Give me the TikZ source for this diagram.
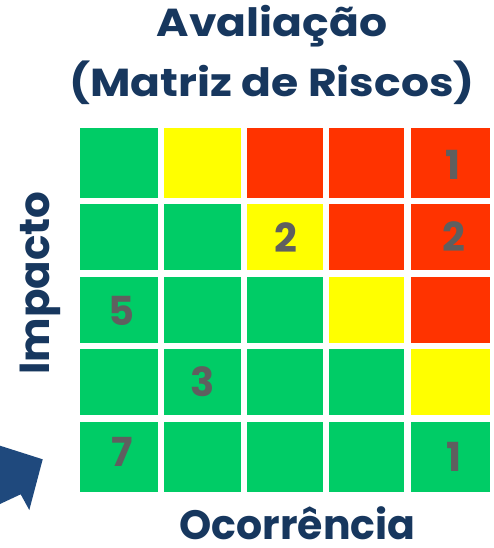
\documentclass[tikz,border=0pt]{standalone}
\usepackage{fontspec}
\setmainfont{Poppins}
\definecolor{cgreen}{HTML}{00CC66}
\definecolor{cyellow}{HTML}{FFFF00}
\definecolor{cred}{HTML}{FF3300}
\definecolor{cdigit}{HTML}{5F5F5F}
\definecolor{cnavy}{HTML}{17375E}
\definecolor{carrow}{HTML}{1F497D}
\tikzset{
  digit/.style={text=cdigit,font=\fontsize{40}{40}\selectfont\bfseries,inner sep=0pt},
  navytext/.style={text=cnavy,inner sep=0pt},
}
\begin{document}
\begin{tikzpicture}[x=1pt,y=-1pt]
\useasboundingbox (0,0) rectangle (494,548);
% cell: name, left, right, top, bottom, colour
\def\cellat#1#2#3#4#5#6{\fill[#6] (#2,#4) rectangle (#3,#5);\coordinate (#1) at ({(#2+#3)/2},{(#4+#5)/2});}
% row 1
\cellat{c11}{80}{158.3}{128.3}{197.7}{cgreen}
\cellat{c12}{164.3}{240.7}{128.3}{197.7}{cyellow}
\cellat{c13}{246.7}{322.7}{128.3}{197.7}{cred}
\cellat{c14}{328.7}{404.3}{128.3}{197.7}{cred}
\cellat{c15}{410.7}{490}{128.3}{197.7}{cred}
% row 2
\cellat{c21}{80}{158.3}{204}{270}{cgreen}
\cellat{c22}{164.3}{240.7}{204}{270}{cgreen}
\cellat{c23}{246.7}{322.7}{204}{270}{cyellow}
\cellat{c24}{328.7}{404.3}{204}{270}{cred}
\cellat{c25}{410.7}{490}{204}{270}{cred}
% row 3
\cellat{c31}{80}{158.3}{276.7}{342.7}{cgreen}
\cellat{c32}{164.3}{240.7}{276.7}{342.7}{cgreen}
\cellat{c33}{246.7}{322.7}{276.7}{342.7}{cgreen}
\cellat{c34}{328.7}{404.3}{276.7}{342.7}{cyellow}
\cellat{c35}{410.7}{490}{276.7}{342.7}{cred}
% row 4
\cellat{c41}{80}{158.3}{349}{415}{cgreen}
\cellat{c42}{164.3}{240.7}{349}{415}{cgreen}
\cellat{c43}{246.7}{322.7}{349}{415}{cgreen}
\cellat{c44}{328.7}{404.3}{349}{415}{cgreen}
\cellat{c45}{410.7}{490}{349}{415}{cyellow}
% row 5
\cellat{c51}{80}{158.3}{422.3}{491.7}{cgreen}
\cellat{c52}{164.3}{240.7}{422.3}{491.7}{cgreen}
\cellat{c53}{246.7}{322.7}{422.3}{491.7}{cgreen}
\cellat{c54}{328.7}{404.3}{422.3}{491.7}{cgreen}
\cellat{c55}{410.7}{490}{422.3}{491.7}{cgreen}
% digits
\node[digit] (d1) at (453,165) {1};
\node[digit] (d2) at (286,238) {2};
\node[digit] (d3) at (454,237) {2};
\node[digit] (d4) at (121.5,311) {5};
\node[digit] (d5) at (202.5,381.5) {3};
\node[digit] (d6) at (122,452) {7};
\node[digit] (d7) at (454,457) {1};
% titles
\node[navytext,font=\fontsize{39}{39}\selectfont\bfseries,anchor=base] (t1) at (272,37) {\scalebox{1.13}[1]{Avaliação}};
\node[navytext,font=\fontsize{39}{39}\selectfont\bfseries,anchor=base] (t2) at (272,97) {\scalebox{1.13}[1]{(Matriz de Riscos)}};
\node[navytext,font=\fontsize{41}{41}\selectfont\bfseries,anchor=base] (ox) at (297.5,539) {Ocorrência};
\node[navytext,font=\fontsize{42}{42}\selectfont\bfseries,anchor=base,rotate=90] (iy) at (49,283) {Impacto};
% arrow (cut by the left edge)
\fill[carrow] (0,445.7) -- (42.7,459.3) -- (29.3,510) -- (20.7,494.3) -- (0,504) -- cycle;
\end{tikzpicture}
\end{document}
